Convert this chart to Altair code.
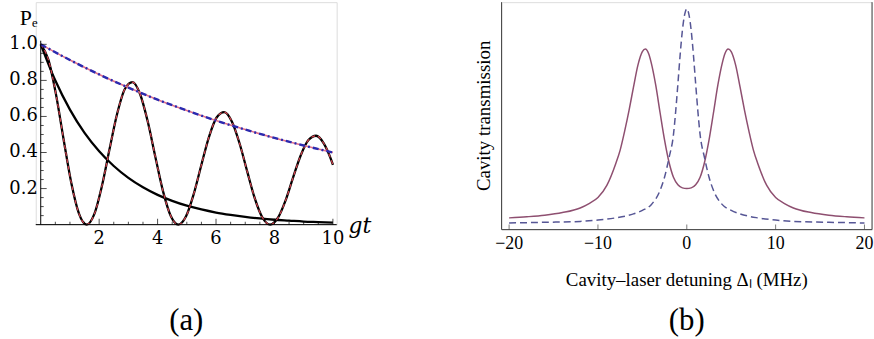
import altair as alt
import pandas as pd

# ---------------- Panel (a) data ----------------
t_osc = [0, 0.262, 0.524, 0.785, 1.047, 1.309, 1.571, 1.833, 2.094, 2.356, 2.618, 2.880,
         3.142, 3.403, 3.665, 3.927, 4.189, 4.451, 4.712, 4.974, 5.236, 5.498, 5.760, 6.021,
         6.283, 6.545, 6.807, 7.069, 7.330, 7.592, 7.854, 8.116, 8.378, 8.639, 8.901, 9.163,
         9.425, 9.687, 9.948, 10.0]
pe_osc = [1.000, 0.915, 0.721, 0.471, 0.231, 0.061, 0.0, 0.058, 0.214, 0.419, 0.616, 0.752,
          0.790, 0.723, 0.570, 0.373, 0.183, 0.048, 0.0, 0.046, 0.169, 0.331, 0.487, 0.594,
          0.624, 0.571, 0.450, 0.294, 0.144, 0.038, 0.0, 0.037, 0.133, 0.262, 0.385, 0.469,
          0.493, 0.451, 0.356, 0.332]

t_dec = [0, 0.5, 1, 1.5, 2, 2.5, 3, 3.5, 4, 4.5, 5, 5.5, 6, 6.5, 7, 7.5, 8, 8.5, 9, 9.5, 10]
pe_dec = [1.0, 0.799, 0.638, 0.509, 0.407, 0.325, 0.259, 0.207, 0.165, 0.132, 0.105, 0.084,
          0.067, 0.054, 0.043, 0.034, 0.027, 0.022, 0.017, 0.014, 0.011]

t_env = [0, 1, 2, 3, 4, 5, 6, 7, 8, 9, 10]
pe_env = [1.0, 0.913, 0.833, 0.760, 0.693, 0.633, 0.577, 0.527, 0.481, 0.439, 0.400]

a_x_ticks = [2, 4, 6, 8, 10]
a_x_text = ["2", "4", "6", "8", "10"]
a_y_ticks = [0.2, 0.4, 0.6, 0.8, 1.0]
a_y_text = ["0.2", "0.4", "0.6", "0.8", "1.0"]
a_x_minor = [0.5, 1, 1.5, 2.5, 3, 3.5, 4.5, 5, 5.5, 6.5, 7, 7.5, 8.5, 9, 9.5]
a_y_minor = [0.05, 0.1, 0.15, 0.25, 0.3, 0.35, 0.45, 0.5, 0.55, 0.65, 0.7, 0.75,
             0.85, 0.9, 0.95]
A_X_MIN, A_X_MAX = -0.17, 10.13
A_Y_MIN, A_Y_MAX = 0.0, 1.234
A_Y_AXIS_TOP = 1.02

# ---------------- Panel (b) data ----------------
x_sol = [-20, -18, -16, -14, -12, -11, -10, -9, -8, -7.5, -7, -6.5, -6, -5.5, -5, -4.66,
         -4.3, -4, -3.5, -3, -2.5, -2, -1.5, -1, -0.5, 0,
         0.5, 1, 1.5, 2, 2.5, 3, 3.5, 4, 4.3, 4.66, 5, 5.5, 6, 6.5, 7, 7.5, 8, 9, 10,
         11, 12, 14, 16, 18, 20]
y_sol = [0.053, 0.058, 0.065, 0.077, 0.098, 0.118, 0.145, 0.200, 0.298, 0.360, 0.445,
         0.540, 0.645, 0.745, 0.806, 0.818, 0.797, 0.755, 0.655, 0.528, 0.405, 0.305,
         0.237, 0.203, 0.189, 0.186,
         0.189, 0.203, 0.237, 0.305, 0.405, 0.528, 0.655, 0.755, 0.797, 0.818, 0.806,
         0.745, 0.645, 0.540, 0.445, 0.360, 0.298, 0.200, 0.145, 0.118, 0.098, 0.077,
         0.065, 0.058, 0.053]

x_dash = [-20, -16, -12, -10, -8, -6, -5, -4, -3, -2.5, -2, -1.5, -1.25, -1, -0.75,
          -0.5, -0.25, 0, 0.25, 0.5, 0.75, 1, 1.25, 1.5, 2, 2.5, 3, 4, 5, 6, 8, 10, 12,
          16, 20]
y_dash = [0.030, 0.033, 0.037, 0.043, 0.053, 0.071, 0.087, 0.113, 0.178, 0.238, 0.325,
          0.430, 0.535, 0.660, 0.790, 0.900, 0.972, 1.0, 0.972, 0.900, 0.790, 0.660,
          0.535, 0.430, 0.325, 0.238, 0.178, 0.113, 0.087, 0.071, 0.053, 0.043, 0.037,
          0.033, 0.030]

b_x_ticks = [-20, -10, 0, 10, 20]
b_x_text = ["\u221220", "\u221210", "0", "10", "20"]
B_X_MIN, B_X_MAX = -20.85, 20.85
B_Y_MIN, B_Y_MAX = 0.0, 1.03

# ---------------- styling ----------------
FA = "DejaVu Serif"
FB = "Liberation Serif"
PURPLE = "#8e4f70"
SLATE = "#565695"
FRAME = "#444444"

xa = alt.Scale(domain=[A_X_MIN, A_X_MAX], nice=False, zero=False)
ya = alt.Scale(domain=[A_Y_MIN, A_Y_MAX], nice=False, zero=False)
xb = alt.Scale(domain=[B_X_MIN, B_X_MAX], nice=False, zero=False)
yb = alt.Scale(domain=[B_Y_MIN, B_Y_MAX], nice=False, zero=False)


def XA(f):
    return alt.X(f, scale=xa, axis=None)


def YA(f):
    return alt.Y(f, scale=ya, axis=None)


def XB(f):
    return alt.X(f, scale=xb, axis=None)


def YB(f):
    return alt.Y(f, scale=yb, axis=None)


osc = pd.DataFrame({"t": t_osc, "pe": pe_osc})
dec = pd.DataFrame({"t": t_dec, "pe": pe_dec})
env = pd.DataFrame({"t": t_env, "pe": pe_env})

black_osc = alt.Chart(osc).mark_line(color="black", strokeWidth=2.3,
                                     interpolate="monotone").encode(x=XA("t:Q"), y=YA("pe:Q"))
red_osc = alt.Chart(osc).mark_line(color="#d8434f", strokeWidth=1.2, strokeDash=[4, 3],
                                   interpolate="monotone").encode(x=XA("t:Q"), y=YA("pe:Q"))
black_dec = alt.Chart(dec).mark_line(color="black", strokeWidth=2.3,
                                     interpolate="monotone").encode(x=XA("t:Q"), y=YA("pe:Q"))
pink_env = alt.Chart(env).mark_line(color="#e0708a", strokeWidth=1.6,
                                    interpolate="monotone").encode(x=XA("t:Q"), y=YA("pe:Q"))
blue_env = alt.Chart(env).mark_line(color="#2a2ab0", strokeWidth=2.4, strokeDash=[6, 3, 2, 3],
                                    interpolate="monotone").encode(x=XA("t:Q"), y=YA("pe:Q"))

# axes of panel (a)
a_xline = alt.Chart(pd.DataFrame({"t": [A_X_MIN], "t2": [A_X_MAX], "pe": [0]})).mark_rule(
    color="black", strokeWidth=1).encode(x=XA("t:Q"), x2="t2:Q", y=YA("pe:Q"))
a_yline = alt.Chart(pd.DataFrame({"t": [0], "pe": [0], "pe2": [A_Y_AXIS_TOP]})).mark_rule(
    color="black", strokeWidth=1).encode(x=XA("t:Q"), y=YA("pe:Q"), y2="pe2:Q")


def xticks_a(vals, size):
    d = pd.DataFrame({"t": vals, "pe": [0] * len(vals)})
    return alt.Chart(d).mark_tick(orient="vertical", size=size, thickness=1, color="black",
                                  yOffset=-size / 2).encode(x=XA("t:Q"), y=YA("pe:Q"))


def yticks_a(vals, size):
    d = pd.DataFrame({"pe": vals, "t": [0] * len(vals)})
    return alt.Chart(d).mark_tick(orient="horizontal", size=size, thickness=1, color="black",
                                  xOffset=size / 2).encode(x=XA("t:Q"), y=YA("pe:Q"))


a_xlab = alt.Chart(pd.DataFrame({"t": a_x_ticks, "pe": [0] * 5, "s": a_x_text})).mark_text(
    font=FA, fontSize=18, color="black", align="center", baseline="top", dy=6).encode(
    x=XA("t:Q"), y=YA("pe:Q"), text="s:N")
a_ylab = alt.Chart(pd.DataFrame({"t": [0] * 5, "pe": a_y_ticks, "s": a_y_text})).mark_text(
    font=FA, fontSize=18, color="black", align="right", baseline="middle", dx=-3).encode(
    x=XA("t:Q"), y=YA("pe:Q"), text="s:N")
a_xtitle = alt.Chart(pd.DataFrame({"t": [A_X_MAX], "pe": [0], "s": ["gt"]})).mark_text(
    font=FA, fontSize=22, fontStyle="italic", color="black", align="left",
    baseline="alphabetic", dx=12, dy=8).encode(x=XA("t:Q"), y=YA("pe:Q"), text="s:N")
a_ytitle = alt.Chart(pd.DataFrame({"t": [0], "pe": [A_Y_MAX], "s": ["Pₑ"]})).mark_text(
    font=FB, fontSize=22, color="black", align="left", baseline="alphabetic",
    dx=-21, dy=23).encode(x=XA("t:Q"), y=YA("pe:Q"), text="s:N")
a_caption = alt.Chart(pd.DataFrame({"t": [(A_X_MIN + A_X_MAX) / 2], "pe": [0],
                                    "s": ["(a)"]})).mark_text(
    font=FB, fontSize=31, color="black", align="center", baseline="middle", dy=97).encode(
    x=XA("t:Q"), y=YA("pe:Q"), text="s:N")

panel_a = alt.layer(
    black_osc, black_dec, red_osc, pink_env, blue_env, a_xline, a_yline,
    xticks_a(a_x_ticks, 6), xticks_a(a_x_minor, 3), yticks_a(a_y_ticks, 6),
    yticks_a(a_y_minor, 3), a_xlab, a_ylab, a_xtitle, a_ytitle, a_caption
).properties(width=303, height=224)

# ---------------- Panel (b) ----------------
sol = pd.DataFrame({"x": x_sol, "y": y_sol})
dsh = pd.DataFrame({"x": x_dash, "y": y_dash})

sol_line = alt.Chart(sol).mark_line(color=PURPLE, strokeWidth=1.5,
                                    interpolate="monotone").encode(x=XB("x:Q"), y=YB("y:Q"))
dash_line = alt.Chart(dsh).mark_line(color=SLATE, strokeWidth=1.5, strokeDash=[7, 4],
                                     interpolate="monotone").encode(x=XB("x:Q"), y=YB("y:Q"))

b_bottom = alt.Chart(pd.DataFrame({"x": [B_X_MIN], "x2": [B_X_MAX], "y": [B_Y_MIN]})).mark_rule(
    color=FRAME, strokeWidth=1).encode(x=XB("x:Q"), x2="x2:Q", y=YB("y:Q"))
b_sides = alt.Chart(pd.DataFrame({"x": [B_X_MIN, B_X_MAX], "y": [B_Y_MIN] * 2,
                                  "y2": [B_Y_MAX] * 2})).mark_rule(
    color=FRAME, strokeWidth=1).encode(x=XB("x:Q"), y=YB("y:Q"), y2="y2:Q")
b_ticks = alt.Chart(pd.DataFrame({"x": b_x_ticks, "y": [0] * 5})).mark_tick(
    orient="vertical", size=5, thickness=1, color=FRAME, yOffset=-2.5).encode(
    x=XB("x:Q"), y=YB("y:Q"))
b_xlab = alt.Chart(pd.DataFrame({"x": b_x_ticks, "y": [0] * 5, "s": b_x_text})).mark_text(
    font=FB, fontSize=18, color="black", align="center", baseline="top", dy=6).encode(
    x=XB("x:Q"), y=YB("y:Q"), text="s:N")
b_xtitle = alt.Chart(pd.DataFrame({"x": [(B_X_MIN + B_X_MAX) / 2], "y": [0],
                                   "s": ["Cavity–laser detuning Δₗ (MHz)"]})).mark_text(
    font=FB, fontSize=19, color="black", align="center", baseline="middle", dy=51).encode(
    x=XB("x:Q"), y=YB("y:Q"), text="s:N")
b_ytitle = alt.Chart(pd.DataFrame({"x": [B_X_MIN], "y": [(B_Y_MIN + B_Y_MAX) / 2],
                                   "s": ["Cavity transmission"]})).mark_text(
    font=FB, fontSize=19, color="black", align="center", baseline="middle", angle=270,
    dy=-18).encode(x=XB("x:Q"), y=YB("y:Q"), text="s:N")
b_caption = alt.Chart(pd.DataFrame({"x": [(B_X_MIN + B_X_MAX) / 2], "y": [0],
                                    "s": ["(b)"]})).mark_text(
    font=FB, fontSize=31, color="black", align="center", baseline="middle", dy=92).encode(
    x=XB("x:Q"), y=YB("y:Q"), text="s:N")

panel_b = alt.layer(
    sol_line, dash_line, b_bottom, b_sides, b_ticks, b_xlab, b_xtitle, b_ytitle, b_caption
).properties(width=373, height=229)

chart = alt.hconcat(panel_a, panel_b, spacing=102).properties(
    padding={"left": 8, "top": 0, "right": 0, "bottom": 0},
    background="white"
).configure_view(stroke=None).configure(font="Liberation Serif")

chart.save("out.html", embed_options={"renderer": "svg", "actions": False})
